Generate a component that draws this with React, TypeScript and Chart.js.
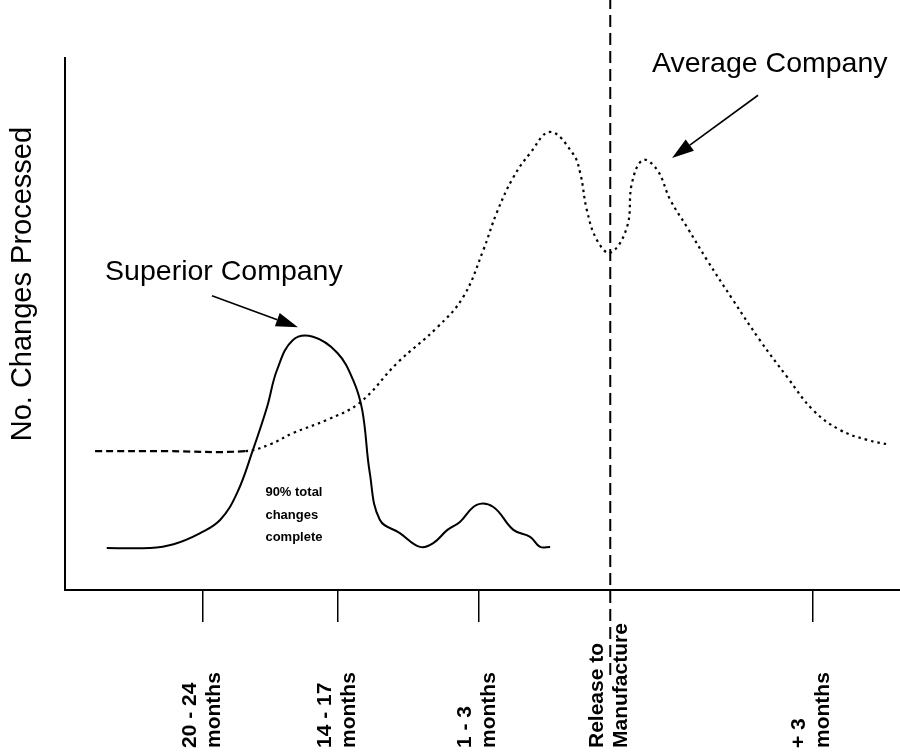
import React, { useEffect, useRef } from 'react';
import { Chart, registerables } from 'chart.js';

Chart.register(...registerables);

// Superior company curve (solid)
const superiorX = [5.0, 10.2, 13.0, 16.2, 18.6, 20.6, 22.5, 24.2, 25.4, 27.3, 29.7, 32.6, 34.5, 35.6, 36.5, 37.7, 40.1, 42.5, 44.1, 45.8, 47.3, 49.3, 51.3, 53.7, 55.7, 56.9, 58.1];
const superiorY = [7.9, 7.9, 8.6, 10.7, 13.2, 18.2, 26.3, 34.4, 41.4, 47.0, 47.6, 44.6, 39.5, 33.8, 22.0, 13.2, 10.7, 8.1, 8.8, 11.3, 12.8, 16.0, 15.6, 11.3, 10.0, 8.1, 8.1];

// Average company curve (dashed start, then dotted)
const averageX = [3.6, 12.0, 21.6, 24.6, 27.3, 31.4, 35.3, 39.8, 44.6, 47.7, 50.1, 51.7, 53.7, 55.7, 58.1, 60.8, 61.7, 62.5, 63.7, 65.3, 67.3, 67.9, 69.2, 70.9, 72.5, 74.5, 76.9, 80.0, 83.2, 86.5, 89.6, 92.8, 96.1, 98.8];
const averageY = [26.1, 26.1, 26.1, 27.4, 29.5, 32.0, 35.2, 42.7, 49.4, 55.1, 63.9, 70.9, 77.6, 82.1, 86.1, 82.1, 78.4, 71.4, 65.8, 63.4, 68.2, 76.5, 80.8, 79.0, 73.3, 68.2, 62.0, 54.5, 47.0, 40.0, 33.8, 30.1, 28.2, 27.3];
const averageDashEnd = 21.6;

// X axis ticks
const tickValues = [16.5, 32.7, 49.5, 65.3, 89.5];
const tickLabels = [
  ['20 - 24', 'months'],
  ['14 - 17', 'months'],
  ['1 - 3', 'months'],
  ['Release to', 'Manufacture'],
  ['+ 3', 'months'],
];

// Release to manufacture marker
const releaseX = 65.3;
const releaseLineY = [-16, 111];

// Texts
const yTitle = 'No. Changes Processed';
const yTitleCenter = 57.5;
const annotationTexts = ['Superior Company', 'Average Company'];
const annotationX = [4.8, 70.3];
const annotationY = [58.3, 97.4];
const arrowFromX = [17.6, 83.0];
const arrowFromY = [55.3, 93.0];
const arrowToX = [27.9, 72.7];
const arrowToY = [49.4, 81.2];
const noteLines = ['90% total', 'changes', 'complete'];
const noteX = 24.0;
const noteY = [18.4, 14.1, 9.8];

const FONT = '"Liberation Sans", Arial, Helvetica, sans-serif';

const textPlugin = {
  id: 'textPlugin',
  afterDraw(chart: any) {
    const ctx = chart.ctx as CanvasRenderingContext2D;
    const xs = chart.scales.x;
    const ys = chart.scales.y;
    const area = chart.chartArea;
    ctx.save();
    ctx.fillStyle = '#000';
    ctx.strokeStyle = '#000';

    // y title
    ctx.save();
    ctx.translate(area.left - 42, ys.getPixelForValue(yTitleCenter));
    ctx.rotate(-Math.PI / 2);
    ctx.font = `29px ${FONT}`;
    ctx.textAlign = 'center';
    ctx.textBaseline = 'middle';
    ctx.fillText(yTitle, 0, 0);
    ctx.restore();

    // tick labels (bottom aligned, reading upward)
    ctx.font = `bold 21px ${FONT}`;
    ctx.textAlign = 'left';
    ctx.textBaseline = 'middle';
    tickValues.forEach((v, i) => {
      const px = xs.getPixelForValue(v);
      const offsets = [-13, 11];
      tickLabels[i].forEach((line, j) => {
        ctx.save();
        ctx.translate(px + offsets[j], chart.height - 6);
        ctx.rotate(-Math.PI / 2);
        ctx.fillText(line, 0, 0);
        ctx.restore();
      });
    });

    // annotations
    ctx.font = `28.5px ${FONT}`;
    ctx.textAlign = 'left';
    ctx.textBaseline = 'alphabetic';
    annotationTexts.forEach((t, i) => {
      ctx.fillText(t, xs.getPixelForValue(annotationX[i]), ys.getPixelForValue(annotationY[i]));
    });

    // arrows
    arrowFromX.forEach((_, i) => {
      const x1 = xs.getPixelForValue(arrowFromX[i]);
      const y1 = ys.getPixelForValue(arrowFromY[i]);
      const x2 = xs.getPixelForValue(arrowToX[i]);
      const y2 = ys.getPixelForValue(arrowToY[i]);
      const ang = Math.atan2(y2 - y1, x2 - x1);
      const headLen = 22;
      const headW = 7;
      const bx = x2 - headLen * Math.cos(ang);
      const by = y2 - headLen * Math.sin(ang);
      ctx.lineWidth = 1.6;
      ctx.beginPath();
      ctx.moveTo(x1, y1);
      ctx.lineTo(bx, by);
      ctx.stroke();
      ctx.beginPath();
      ctx.moveTo(x2, y2);
      ctx.lineTo(bx + headW * Math.sin(ang), by - headW * Math.cos(ang));
      ctx.lineTo(bx - headW * Math.sin(ang), by + headW * Math.cos(ang));
      ctx.closePath();
      ctx.fill();
    });

    // note
    ctx.font = `bold 13px ${FONT}`;
    ctx.textBaseline = 'middle';
    noteLines.forEach((t, i) => {
      ctx.fillText(t, xs.getPixelForValue(noteX), ys.getPixelForValue(noteY[i]));
    });

    ctx.restore();
  },
};

export default function App() {
  const ref = useRef<HTMLCanvasElement>(null);
  useEffect(() => {
    document.body.style.margin = '0';
    const canvas = ref.current!;
    const chart = new Chart(canvas, {
      type: 'line',
      data: {
        datasets: [
          {
            label: 'Superior Company',
            data: superiorX.map((x, i) => ({ x, y: superiorY[i] })),
            borderColor: '#000',
            borderWidth: 2,
            pointRadius: 0,
            tension: 0.4,
            fill: false,
          },
          {
            label: 'Average Company',
            data: averageX.map((x, i) => ({ x, y: averageY[i] })),
            borderColor: '#000',
            borderWidth: 2.2,
            pointRadius: 0,
            tension: 0.4,
            fill: false,
            segment: {
              borderDash: (c: any) => (c.p1.parsed.x <= averageDashEnd ? [7, 4] : [2.5, 4]),
            },
          },
          {
            label: 'Release',
            data: releaseLineY.map((y) => ({ x: releaseX, y })),
            borderColor: '#000',
            borderWidth: 2,
            borderDash: [12, 6],
            pointRadius: 0,
            clip: false as any,
            fill: false,
          },
        ],
      },
      options: {
        animation: false,
        responsive: false,
        devicePixelRatio: 1,
        layout: { padding: { top: 58, right: 0, left: 0, bottom: 0 } },
        plugins: { legend: { display: false }, tooltip: { enabled: false }, title: { display: false } },
        scales: {
          x: {
            type: 'linear',
            min: 0,
            max: 100,
            afterBuildTicks: (s: any) => {
              s.ticks = tickValues.map((v) => ({ value: v }));
            },
            afterFit: (s: any) => {
              s.height = 164;
            },
            ticks: { display: false },
            grid: {
              display: true,
              drawOnChartArea: false,
              drawTicks: true,
              tickLength: 32,
              lineWidth: 1.5,
              color: (c: any) => (c.tick && c.tick.value === releaseX ? 'rgba(0,0,0,0)' : '#000'),
            },
            border: { display: true, color: '#000', width: 2 },
          },
          y: {
            type: 'linear',
            min: 0,
            max: 100,
            afterFit: (s: any) => {
              s.width = 65;
            },
            ticks: { display: false },
            grid: { display: false, drawTicks: false },
            border: { display: true, color: '#000', width: 2 },
          },
        },
      },
      plugins: [textPlugin],
    });
    return () => chart.destroy();
  }, []);
  return <canvas ref={ref} width={900} height={754} style={{ display: 'block' }} />;
}
